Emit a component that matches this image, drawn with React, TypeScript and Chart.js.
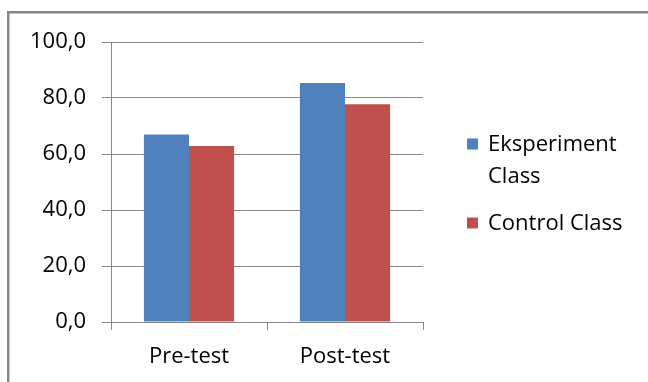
import React, { useEffect, useRef } from "react";
import { Chart, registerables } from "chart.js";

Chart.register(...registerables);

const categories = ["Pre-test", "Post-test"];
const seriesLabels = ["Eksperiment Class", "Control Class"];
const eksperimentValues = [67.0, 85.4];
const controlValues = [62.9, 77.8];
const seriesColors = ["#4F81BD", "#C0504D"];
const legendLines = [["Eksperiment", "Class"], ["Control Class"]];
const yMin = 0;
const yMax = 100;
const yStep = 20;

const FONT = "'Open Sans', 'Noto Sans', sans-serif";
const GRID = "#888888";

const framePlugin = {
  id: "frame",
  afterDraw(chart: any) {
    const ctx = chart.ctx;
    ctx.save();
    ctx.fillStyle = "#868686";
    ctx.fillRect(7, 11, 641, 2.5);
    ctx.fillRect(7, 11, 2.5, 371);
    ctx.restore();
  },
};

const legendPlugin = {
  id: "customLegend",
  afterDraw(chart: any) {
    const ctx = chart.ctx;
    ctx.save();
    ctx.font = `22px ${FONT}`;
    ctx.textBaseline = "middle";
    ctx.textAlign = "left";
    const x = 467;
    const size = 11;
    const lineH = 32;
    let y = 145;
    chart.data.datasets.forEach((ds: any, i: number) => {
      ctx.fillStyle = ds.backgroundColor;
      ctx.fillRect(x, y - size / 2 - 1, size, size);
      ctx.fillStyle = "#000000";
      const lines = legendLines[i];
      lines.forEach((t: string, j: number) => {
        ctx.fillText(t, x + 21, y + j * lineH);
      });
      y += lines.length * lineH + 15;
    });
    ctx.restore();
  },
};

export default function App() {
  const ref = useRef<HTMLCanvasElement | null>(null);
  useEffect(() => {
    if (!ref.current) return;
    const chart = new Chart(ref.current, {
      type: "bar",
      data: {
        labels: categories,
        datasets: [
          {
            label: seriesLabels[0],
            data: eksperimentValues,
            backgroundColor: seriesColors[0],
            categoryPercentage: 0.578,
            barPercentage: 1,
          },
          {
            label: seriesLabels[1],
            data: controlValues,
            backgroundColor: seriesColors[1],
            categoryPercentage: 0.578,
            barPercentage: 1,
          },
        ],
      },
      options: {
        responsive: false,
        animation: false,
        layout: { padding: { left: 0, right: 225, top: 42, bottom: 0 } },
        plugins: {
          legend: { display: false },
          tooltip: { enabled: false },
        },
        scales: {
          x: {
            afterFit(scale: any) {
              scale.height = 60;
            },
            grid: {
              display: true,
              drawOnChartArea: false,
              drawTicks: true,
              tickLength: 8,
              color: GRID,
              offset: true,
            },
            border: { display: true, color: GRID, width: 1 },
            ticks: {
              color: "#000000",
              font: { family: FONT, size: 22 },
              padding: 14,
              maxRotation: 0,
            },
          },
          y: {
            min: yMin,
            max: yMax,
            afterFit(scale: any) {
              scale.width = 111;
            },
            grid: {
              color: GRID,
              lineWidth: 1,
              drawTicks: true,
              tickLength: 9,
            },
            border: { display: true, color: GRID, width: 1 },
            ticks: {
              stepSize: yStep,
              color: "#000000",
              font: { family: FONT, size: 22 },
              padding: 16,
              callback: (v: any) => Number(v).toFixed(1).replace(".", ","),
            },
          },
        },
      },
      plugins: [framePlugin, legendPlugin],
    });
    return () => chart.destroy();
  }, []);
  return (
    <div style={{ position: "fixed", left: 0, top: 0, width: 648, height: 382, background: "#ffffff" }}>
      <canvas ref={ref} width={648} height={382} />
    </div>
  );
}
